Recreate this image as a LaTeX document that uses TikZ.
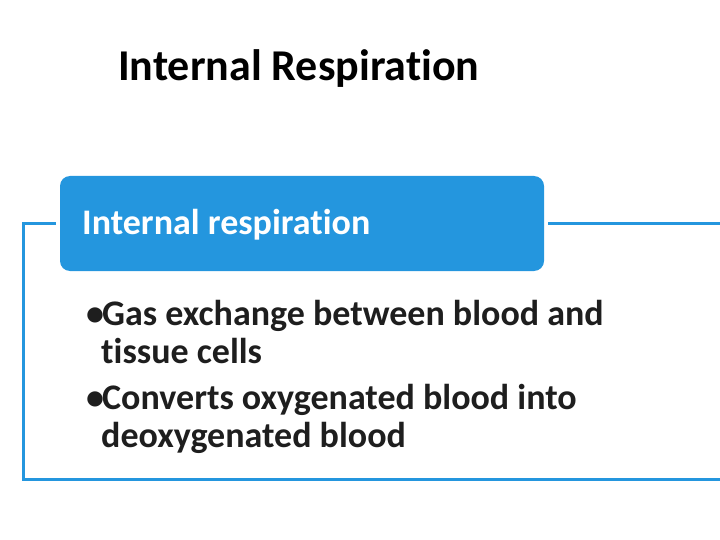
\documentclass[tikz,border=0pt]{standalone}
\usepackage{fontspec}
\setmainfont[Ligatures={NoCommon,NoRequired,NoContextual}]{Carlito}
\definecolor{bl}{RGB}{36,150,222}
\definecolor{tx}{RGB}{30,30,30}
\begin{document}
\begin{tikzpicture}[x=1pt,y=-1pt,
  outline/.style={draw=bl,line width=3pt},
  hdr/.style={fill=bl,rounded corners=10pt},
  body/.style={font=\bfseries\fontsize{36}{38}\selectfont,text=tx,anchor=base west,inner sep=0pt}]
\useasboundingbox (0,0) rectangle (720,540);
\begin{scope}
\clip (0,0) rectangle (720,540);
\draw[outline] (23,224) rectangle (722,479);
\end{scope}
\fill[white] (56,215) rectangle (548,233);
\fill[hdr] (60,176) rectangle (544,271);
\node[anchor=base west,inner sep=0pt,font=\bfseries\fontsize{44}{48}\selectfont,text=black] (title) at (118,81) {Internal Respiration};
\node[anchor=base west,inner sep=0pt,font=\bfseries\fontsize{36}{40}\selectfont,text=white] (h) at (82,234) {Internal respiration};
\node[body] (d1) at (86,325) {\textbullet};
\node[body] (b1) at (102,325) {Gas exchange between blood and};
\node[body] (b1b) at (101,363) {tissue cells};
\node[body] (d2) at (86,409) {\textbullet};
\node[body] (b2) at (102,409) {Converts oxygenated blood into};
\node[body] (b2b) at (101,447) {deoxygenated blood};
\end{tikzpicture}
\end{document}
